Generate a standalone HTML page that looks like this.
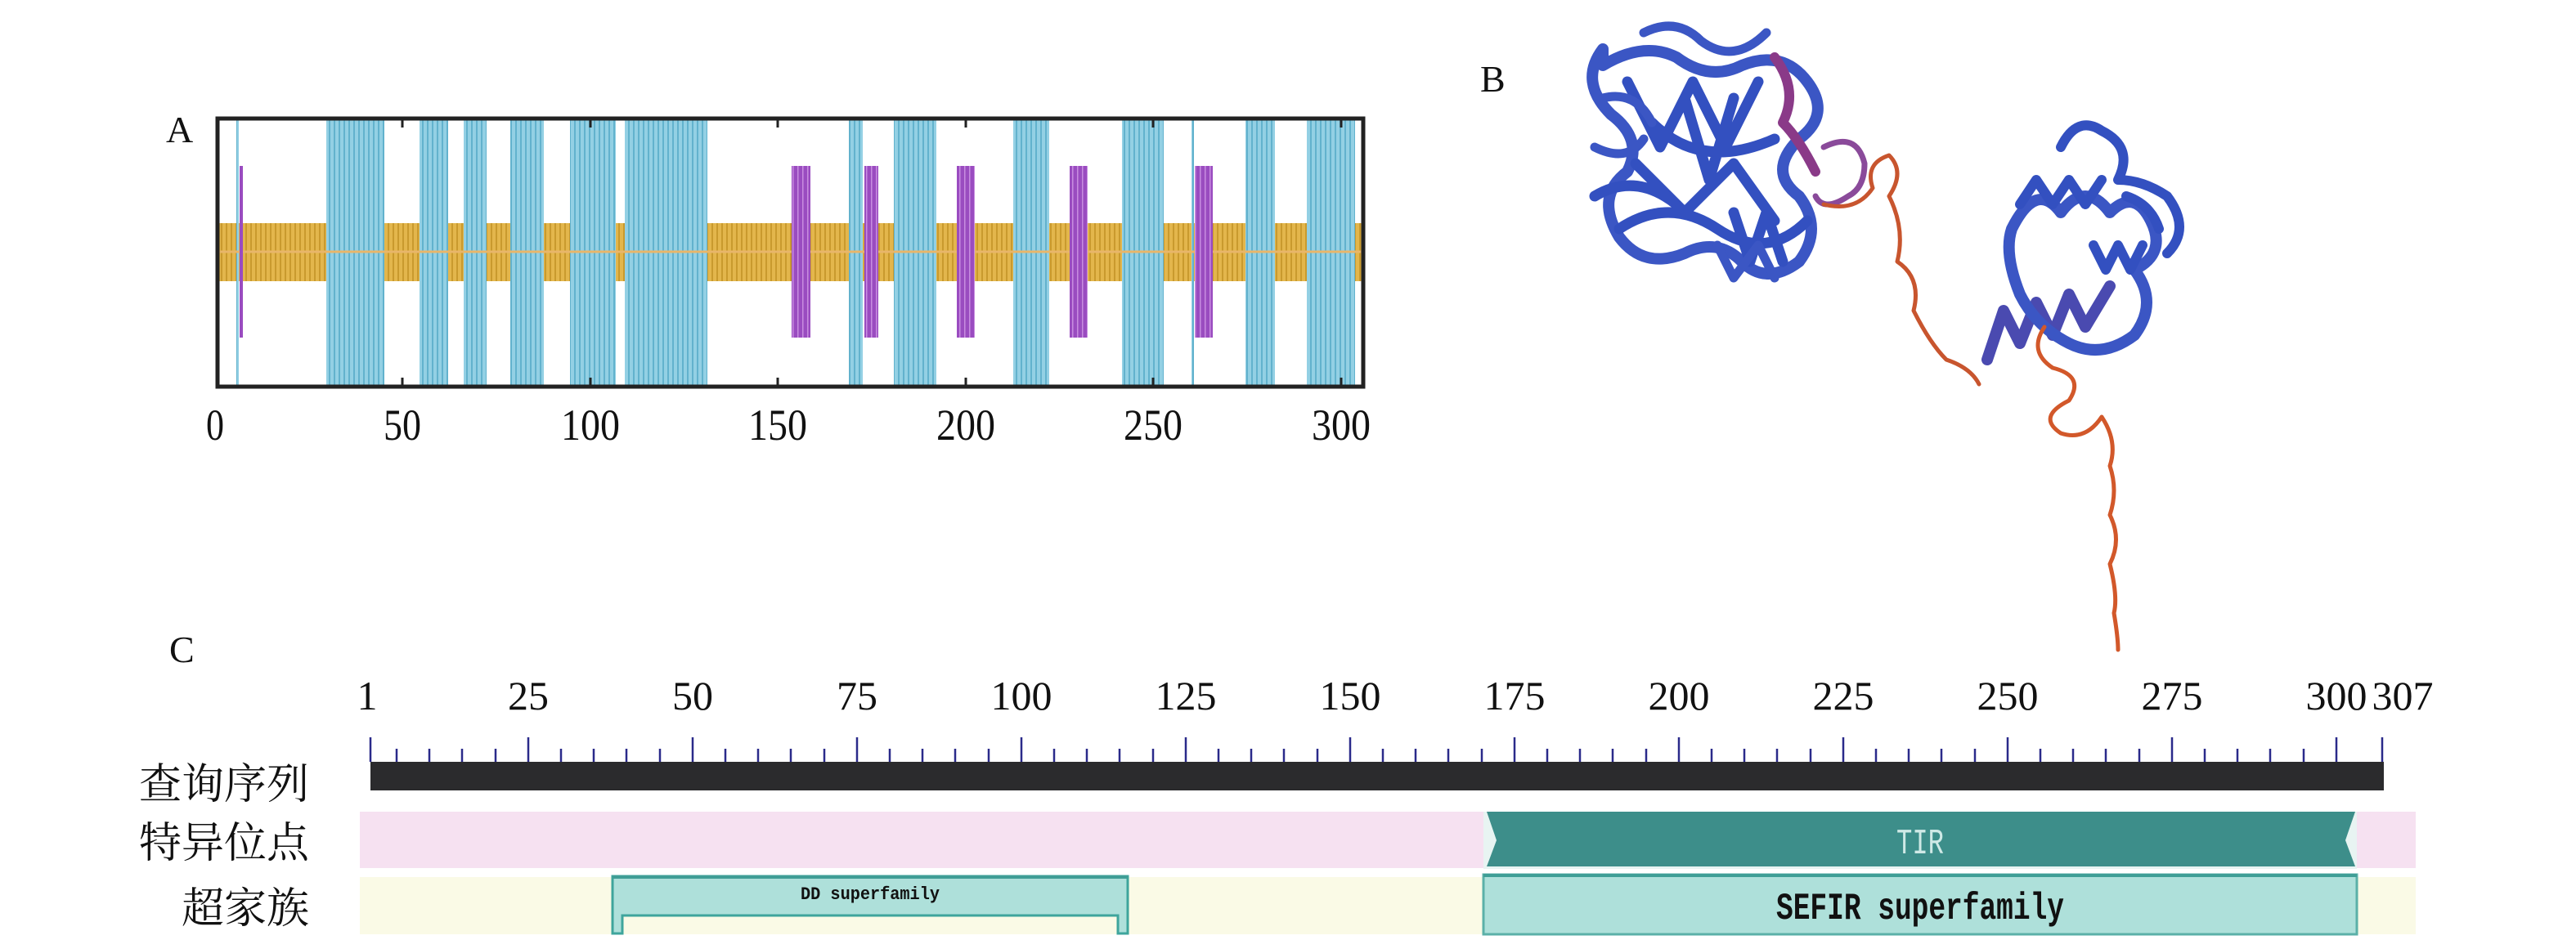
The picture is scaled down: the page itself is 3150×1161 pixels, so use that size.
<!DOCTYPE html>
<html><head><meta charset="utf-8"><style>
html,body{margin:0;padding:0;background:#fff;}
svg{display:block;}
.t{font-family:"Liberation Serif","Noto Serif CJK SC",serif;fill:#111;}
.c{font-family:"Liberation Serif","Noto Serif CJK SC",serif;fill:#111;}
</style></head><body>
<svg width="3150" height="1161" viewBox="0 0 3150 1161" xmlns="http://www.w3.org/2000/svg">
<defs>
<pattern id="py" width="6" height="10" patternUnits="userSpaceOnUse"><rect width="6" height="10" fill="#e3b64c"/><rect width="2" height="10" fill="#c99a2e"/></pattern>
<pattern id="pc" width="6" height="10" patternUnits="userSpaceOnUse"><rect width="6" height="10" fill="#93d0e4"/><rect width="2" height="10" fill="#62b2cd"/></pattern>
<pattern id="pp" width="6" height="10" patternUnits="userSpaceOnUse"><rect width="6" height="10" fill="#9a4cc0"/><rect x="3" width="1.5" height="10" fill="#c88de0"/></pattern>
</defs>

<!-- Panel A -->
<text class="t" x="203" y="174" font-size="46">A</text>
<rect x="268" y="273" width="1398" height="71" fill="url(#py)"/>
<g fill="url(#pc)">
<rect x="289" y="146" width="3" height="325"/>
<rect x="399" y="146" width="71" height="325"/>
<rect x="513" y="146" width="35" height="325"/>
<rect x="567" y="146" width="28" height="325"/>
<rect x="624" y="146" width="41" height="325"/>
<rect x="697" y="146" width="56" height="325"/>
<rect x="764" y="146" width="101" height="325"/>
<rect x="1038" y="146" width="17" height="325"/>
<rect x="1093" y="146" width="52" height="325"/>
<rect x="1239" y="146" width="44" height="325"/>
<rect x="1372" y="146" width="51" height="325"/>
<rect x="1457" y="146" width="3" height="325"/>
<rect x="1523" y="146" width="36" height="325"/>
<rect x="1598" y="146" width="59" height="325"/>
</g>
<line x1="268" y1="308" x2="1666" y2="308" stroke="#e8b66a" stroke-width="3"/>
<g fill="url(#pp)">
<rect x="293" y="203" width="4" height="210"/>
<rect x="968" y="203" width="23" height="210"/>
<rect x="1057" y="203" width="17" height="210"/>
<rect x="1170" y="203" width="22" height="210"/>
<rect x="1308" y="203" width="22" height="210"/>
<rect x="1461" y="203" width="22" height="210"/>
</g>
<rect x="266" y="145" width="1401" height="328" fill="none" stroke="#222" stroke-width="5"/>
<g stroke="#222" stroke-width="3">
<line x1="492" y1="146" x2="492" y2="156"/><line x1="722" y1="146" x2="722" y2="156"/><line x1="951" y1="146" x2="951" y2="156"/><line x1="1181" y1="146" x2="1181" y2="156"/><line x1="1410" y1="146" x2="1410" y2="156"/><line x1="1640" y1="146" x2="1640" y2="156"/>
<line x1="492" y1="462" x2="492" y2="472"/><line x1="722" y1="462" x2="722" y2="472"/><line x1="951" y1="462" x2="951" y2="472"/><line x1="1181" y1="462" x2="1181" y2="472"/><line x1="1410" y1="462" x2="1410" y2="472"/><line x1="1640" y1="462" x2="1640" y2="472"/>
</g>
<g class="t" font-size="54" text-anchor="middle">
<text x="263" y="538" textLength="22" lengthAdjust="spacingAndGlyphs">0</text><text x="492" y="538" textLength="46" lengthAdjust="spacingAndGlyphs">50</text><text x="722" y="538" textLength="72" lengthAdjust="spacingAndGlyphs">100</text><text x="951" y="538" textLength="72" lengthAdjust="spacingAndGlyphs">150</text><text x="1181" y="538" textLength="72" lengthAdjust="spacingAndGlyphs">200</text><text x="1410" y="538" textLength="72" lengthAdjust="spacingAndGlyphs">250</text><text x="1640" y="538" textLength="72" lengthAdjust="spacingAndGlyphs">300</text>
</g>

<!-- Panel B -->
<text class="t" x="1810" y="112" font-size="46">B</text>
<g fill="none" stroke-linecap="round" stroke-linejoin="round">
<path d="M1960 60 q-30 40 10 80 q40 30 20 70 q-40 30 -10 80 q30 40 80 20 q40 -20 70 10 q30 30 70 0 q30 -40 0 -80 q-40 -30 0 -70 q40 -30 10 -70 q-30 -40 -80 -20 q-40 20 -80 -10 q-40 -20 -90 10 z" stroke="#3b56c4" stroke-width="14"/>
<path d="M1990 100 l40 80 l40 -80 l40 80 l40 -80 M2000 200 l60 60 l60 -60 l50 70 M1980 280 q60 -40 120 0 q60 40 110 -10 M2020 150 q60 60 150 20 M1950 240 q50 -30 100 10 M2060 120 l30 100 l30 -100 M2120 260 l20 60 l20 -60 l20 60" stroke="#3350c0" stroke-width="13"/>
<path d="M2010 40 q40 -20 70 10 q40 30 80 -10 M1950 180 q40 20 60 -10 M2100 300 l20 40 l30 -40 l20 40 M1960 120 q40 -10 60 30" stroke="#3b56c4" stroke-width="11"/>
<path d="M2170 70 q30 40 10 80 q20 20 40 60" stroke="#8a3a88" stroke-width="12"/>
<path d="M2230 180 q40 -20 50 20 q0 30 -20 40 q-30 20 -40 0" stroke="#8a4a9a" stroke-width="7"/>
<path d="M2230 250 q40 10 60 -20 q-10 -30 20 -40 q20 20 0 50 q20 40 10 80 q30 20 20 60 q20 40 40 60 q30 10 40 30" stroke="#c8552e" stroke-width="5"/>
<path d="M2430 440 l20 -60 l20 40 l20 -50 l20 40 l20 -50 l20 40 l30 -50" stroke="#4a4ab0" stroke-width="14"/>
<path d="M2460 280 q30 -60 60 -20 q30 -40 60 0 q30 -30 50 10 q20 40 -20 60 q30 40 0 80 q-40 30 -80 10 q-40 -20 -60 -60 q-20 -50 -10 -80 z" stroke="#3b56c4" stroke-width="14"/>
<path d="M2520 180 q20 -40 50 -20 q40 20 20 60 q30 0 60 20 q30 40 0 70 M2470 250 l20 -30 l20 30 l20 -30 l20 30 l20 -30 M2560 300 l15 30 l15 -30 l15 30 l15 -30 M2600 240 q30 10 40 40" stroke="#3350c0" stroke-width="12"/>
<path d="M2500 400 q-20 30 10 50 q40 10 20 40 q-40 20 -10 40 q30 10 50 -20 q20 30 10 60 q10 30 0 60 q15 30 0 60 q10 40 5 60 q5 30 5 45" stroke="#d2582a" stroke-width="5"/>
</g>

<!-- Panel C -->
<text class="t" x="207" y="810" font-size="46">C</text>
<g class="t" font-size="50" text-anchor="middle">
<text x="449" y="868">1</text><text x="646" y="868">25</text><text x="847" y="868">50</text><text x="1048" y="868">75</text><text x="1249" y="868">100</text><text x="1450" y="868">125</text><text x="1651" y="868">150</text><text x="1852" y="868">175</text><text x="2053" y="868">200</text><text x="2254" y="868">225</text><text x="2455" y="868">250</text><text x="2656" y="868">275</text><text x="2857" y="868">300</text><text x="2938" y="868">307</text>
</g>
<g stroke="#2a2a8a" stroke-width="2.5">
<line x1="453" y1="902" x2="453" y2="932"/>
<line x1="485" y1="916" x2="485" y2="932"/><line x1="525" y1="916" x2="525" y2="932"/><line x1="565" y1="916" x2="565" y2="932"/><line x1="606" y1="916" x2="606" y2="932"/><line x1="646" y1="902" x2="646" y2="932"/>
<line x1="686" y1="916" x2="686" y2="932"/><line x1="726" y1="916" x2="726" y2="932"/><line x1="766" y1="916" x2="766" y2="932"/><line x1="807" y1="916" x2="807" y2="932"/><line x1="847" y1="902" x2="847" y2="932"/>
<line x1="887" y1="916" x2="887" y2="932"/><line x1="927" y1="916" x2="927" y2="932"/><line x1="967" y1="916" x2="967" y2="932"/><line x1="1008" y1="916" x2="1008" y2="932"/><line x1="1048" y1="902" x2="1048" y2="932"/>
<line x1="1088" y1="916" x2="1088" y2="932"/><line x1="1128" y1="916" x2="1128" y2="932"/><line x1="1168" y1="916" x2="1168" y2="932"/><line x1="1209" y1="916" x2="1209" y2="932"/><line x1="1249" y1="902" x2="1249" y2="932"/>
<line x1="1289" y1="916" x2="1289" y2="932"/><line x1="1329" y1="916" x2="1329" y2="932"/><line x1="1369" y1="916" x2="1369" y2="932"/><line x1="1410" y1="916" x2="1410" y2="932"/><line x1="1450" y1="902" x2="1450" y2="932"/>
<line x1="1490" y1="916" x2="1490" y2="932"/><line x1="1530" y1="916" x2="1530" y2="932"/><line x1="1570" y1="916" x2="1570" y2="932"/><line x1="1611" y1="916" x2="1611" y2="932"/><line x1="1651" y1="902" x2="1651" y2="932"/>
<line x1="1691" y1="916" x2="1691" y2="932"/><line x1="1731" y1="916" x2="1731" y2="932"/><line x1="1771" y1="916" x2="1771" y2="932"/><line x1="1812" y1="916" x2="1812" y2="932"/><line x1="1852" y1="902" x2="1852" y2="932"/>
<line x1="1892" y1="916" x2="1892" y2="932"/><line x1="1932" y1="916" x2="1932" y2="932"/><line x1="1972" y1="916" x2="1972" y2="932"/><line x1="2013" y1="916" x2="2013" y2="932"/><line x1="2053" y1="902" x2="2053" y2="932"/>
<line x1="2093" y1="916" x2="2093" y2="932"/><line x1="2133" y1="916" x2="2133" y2="932"/><line x1="2173" y1="916" x2="2173" y2="932"/><line x1="2214" y1="916" x2="2214" y2="932"/><line x1="2254" y1="902" x2="2254" y2="932"/>
<line x1="2294" y1="916" x2="2294" y2="932"/><line x1="2334" y1="916" x2="2334" y2="932"/><line x1="2374" y1="916" x2="2374" y2="932"/><line x1="2415" y1="916" x2="2415" y2="932"/><line x1="2455" y1="902" x2="2455" y2="932"/>
<line x1="2495" y1="916" x2="2495" y2="932"/><line x1="2535" y1="916" x2="2535" y2="932"/><line x1="2575" y1="916" x2="2575" y2="932"/><line x1="2616" y1="916" x2="2616" y2="932"/><line x1="2656" y1="902" x2="2656" y2="932"/>
<line x1="2696" y1="916" x2="2696" y2="932"/><line x1="2736" y1="916" x2="2736" y2="932"/><line x1="2776" y1="916" x2="2776" y2="932"/><line x1="2817" y1="916" x2="2817" y2="932"/><line x1="2857" y1="902" x2="2857" y2="932"/>
<line x1="2913" y1="902" x2="2913" y2="932"/>
</g>
<rect x="453" y="932" width="2462" height="35" fill="#2b2b2d"/>
<rect x="440" y="993" width="2514" height="69" fill="#f6e1f1"/>
<rect x="440" y="1073" width="2514" height="70" fill="#fafae6"/>
<!-- TIR -->
<path d="M1814 993 L2882 993 L2882 1063 L1814 1063 Z" fill="#e8f4f2"/>
<path d="M1818 993 L2880 993 L2868 1028 L2880 1060 L1818 1060 L1830 1028 Z" fill="#3d8e8a"/>
<text x="2348" y="1044" font-family="Liberation Mono,monospace" font-size="44" fill="#cfe9e6" text-anchor="middle" textLength="58" lengthAdjust="spacingAndGlyphs">TIR</text>
<!-- SEFIR -->
<rect x="1814" y="1070" width="1068" height="73" fill="#aee0da" stroke="#5bb0a8" stroke-width="3"/>
<line x1="1814" y1="1071" x2="2882" y2="1071" stroke="#3f9e96" stroke-width="4"/>
<text x="2348" y="1124" font-family="Liberation Mono,monospace" font-weight="bold" font-size="46" fill="#111" text-anchor="middle" textLength="352" lengthAdjust="spacingAndGlyphs">SEFIR superfamily</text>
<!-- DD -->
<path d="M749 1072 L1379 1072 L1379 1142 L1367 1142 L1367 1120 L761 1120 L761 1142 L749 1142 Z" fill="#aee0da" stroke="#3ea59c" stroke-width="3"/>
<line x1="749" y1="1073" x2="1379" y2="1073" stroke="#3f9e96" stroke-width="4"/>
<text x="1064" y="1100" font-family="Liberation Mono,monospace" font-weight="bold" font-size="22" fill="#111" text-anchor="middle" textLength="170" lengthAdjust="spacingAndGlyphs">DD superfamily</text>
<!-- row labels -->
<g class="c" font-size="52" text-anchor="end">
<text x="378" y="977">查询序列</text>
<text x="378" y="1049">特异位点</text>
<text x="378" y="1129">超家族</text>
</g>
</svg>
</body></html>
